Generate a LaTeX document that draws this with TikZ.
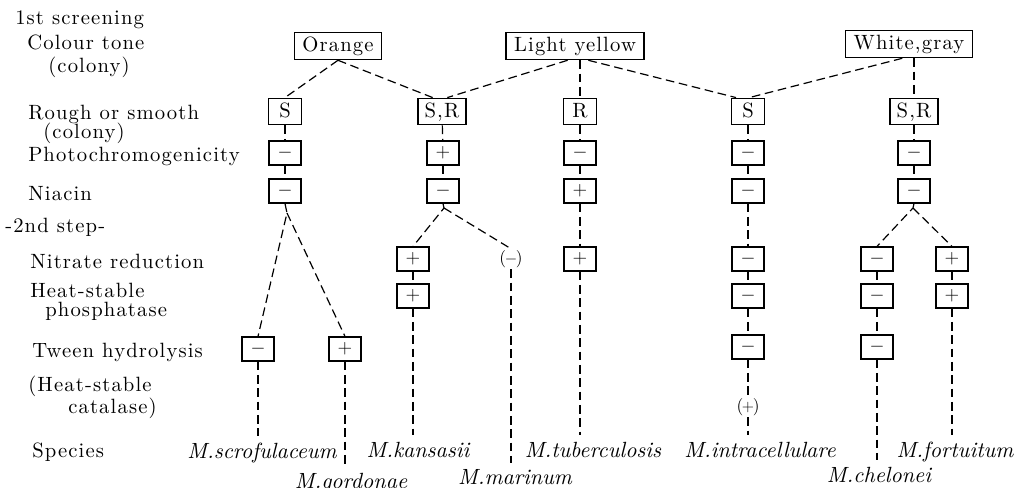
\documentclass[tikz,border=0pt]{standalone}
\usepackage{fontspec}
\setmainfont{lmroman10-regular.otf}[
  ItalicFont=lmroman10-italic.otf,
  UprightFeatures={LetterSpace=5.5}]
\tikzset{
  txt/.style={font=\fontsize{15.5}{18}\selectfont},
  rowlabel/.style={txt, anchor=base west, inner sep=0pt},
  colourbox/.style={txt, draw, line width=0.9pt, inner xsep=6pt, inner ysep=3pt,
    text height=11pt, text depth=3.5pt},
  formbox/.style={txt, draw, line width=0.9pt, inner xsep=5pt, inner ysep=3.5pt,
    text height=11pt, text depth=2pt, minimum width=25pt},
  testbox/.style={draw, line width=0.9pt, minimum width=24pt, minimum height=18pt,
    inner sep=0pt, font=\fontsize{15}{15}\selectfont},
  weak/.style={inner sep=1pt, font=\fontsize{13}{13}\selectfont},
  species/.style={font=\fontsize{16.5}{19}\selectfont\itshape, anchor=base,
    inner xsep=0pt, inner ysep=4.5pt},
  link/.style={line width=0.9pt, dash pattern=on 6.5pt off 3.5pt},
}
\begin{document}
\begin{tikzpicture}[x=0.75pt,y=-0.75pt]
\useasboundingbox (0,0) rectangle (1026,487);

% ---- row captions ----
\node[rowlabel] (c1)  at (15,24)  {1st screening};
\node[rowlabel] (c2)  at (27,49)  {Colour tone};
\node[rowlabel] (c3)  at (48,72)  {(colony)};
\node[rowlabel] (c4)  at (28,119) {Rough or smooth};
\node[rowlabel] (c5)  at (43,138.5) {(colony)};
\node[rowlabel] (c6)  at (28,161) {Photochromogenicity};
\node[rowlabel] (c7)  at (28,200) {Niacin};
\node[rowlabel] (c8)  at (5,232)  {-2nd step-};
\node[rowlabel] (c9)  at (30,268) {Nitrate reduction};
\node[rowlabel] (c10) at (30,297) {Heat-stable};
\node[rowlabel] (c11) at (45,316) {phosphatase};
\node[rowlabel] (c12) at (32,357) {Tween hydrolysis};
\node[rowlabel] (c13) at (28,391) {(Heat-stable};
\node[rowlabel] (c14) at (68,413) {catalase)};
\node[rowlabel] (c15) at (32,457) {Species};

% ---- colour tone ----
\node[colourbox] (ora) at (338,46) {Orange};
\node[colourbox] (ly)  at (575,46) {Light yellow};
\node[colourbox] (wg)  at (909,44) {White,gray};

% ---- rough / smooth ----
\node[formbox] (s1)  at (285,111.5) {S};
\node[formbox] (sr1) at (442,111.5) {S,R};
\node[formbox] (r)   at (580,111.5) {R};
\node[formbox] (s2)  at (748,111.5) {S};
\node[formbox] (sr2) at (914,111.5) {S,R};

% ---- photochromogenicity ----
\node[testbox] (p1) at (285,153) {$-$};
\node[testbox] (p2) at (443,153) {$+$};
\node[testbox] (p3) at (580,153) {$-$};
\node[testbox] (p4) at (748,153) {$-$};
\node[testbox] (p5) at (914,153) {$-$};

% ---- niacin ----
\node[testbox] (n1) at (285,191) {$-$};
\node[testbox] (n2) at (443,191) {$-$};
\node[testbox] (n3) at (580,191) {$+$};
\node[testbox] (n4) at (748,191) {$-$};
\node[testbox] (n5) at (914,191) {$-$};

% ---- nitrate reduction ----
\node[testbox] (t2a) at (413,259) {$+$};
\node[weak]    (t2b) at (511,259) {(\kern-1pt$-$\kern-1pt)};
\node[testbox] (t3)  at (580,259) {$+$};
\node[testbox] (t4)  at (748,259) {$-$};
\node[testbox] (t5a) at (877,259) {$-$};
\node[testbox] (t5b) at (952,259) {$+$};

% ---- heat-stable phosphatase ----
\node[testbox] (h2)  at (413,296) {$+$};
\node[testbox] (h4)  at (748,296) {$-$};
\node[testbox] (h5a) at (877,296) {$-$};
\node[testbox] (h5b) at (952,296) {$+$};

% ---- tween hydrolysis ----
\node[testbox] (w1a) at (258,349) {$-$};
\node[testbox] (w1b) at (345,349) {$+$};
\node[testbox] (w4)  at (748,347) {$-$};
\node[testbox] (w5)  at (877,347) {$-$};

% ---- heat-stable catalase ----
\node[weak] (k4) at (748,407) {(\kern-1pt$+$\kern-1pt)};

% ---- species ----
\node[species] (scr)  at (262,458) {M.scrofulaceum};
\node[species] (gor)  at (351,488) {M.gordonae};
\node[species] (kan)  at (418,457) {M.kansasii};
\node[species] (mar)  at (515,484) {M.marinum};
\node[species] (tub)  at (593,457) {M.tuberculosis};
\node[species] (intr) at (760,457) {M.intracellulare};
\node[species] (che)  at (879,482) {M.chelonei};
\node[species] (fort) at (955,457) {M.fortuitum};

% ---- branching points ----
\coordinate (b1) at (287,213);
\coordinate (b2) at (444,208);
\coordinate (b5) at (913,208);

% ---- first screening links ----
\draw[link] (ora.south) -- (s1.north);
\draw[link] (ora.south) -- ([xshift=-7pt]sr1.north);
\draw[link] ([xshift=-5.5pt]ly.south) -- ([xshift=4pt]sr1.north);
\draw[link] (r.north |- ly.south) -- (r.north);
\draw[link] ([xshift=10pt]ly.south) -- ([xshift=-9pt]s2.north);
\draw[link] ([xshift=-5pt]wg.south) -- ([xshift=1pt]s2.north);
\draw[link] (sr2.north |- wg.south) -- (sr2.north);

% ---- column: scrofulaceum / gordonae ----
\draw[link] (s1) -- (p1);
\draw[link] (p1) -- (n1);
\draw[link] (n1.south) -- (b1) -- (w1a.north);
\draw[link] (b1) -- (w1b.north);
\draw[link] (w1a.south) -- (w1a.south |- scr.north);
\draw[link] (w1b.south) -- (w1b.south |- gor.north);

% ---- column: kansasii / marinum ----
\draw[link] (sr1) -- (p2);
\draw[link] (p2) -- (n2);
\draw[link] (n2.south) -- (b2) -- (t2a.north);
\draw[link] (b2) -- (t2b.north);
\draw[link] (t2a) -- (h2);
\draw[link] (h2.south) -- (h2.south |- kan.north);
\draw[link] (t2b.south) -- (t2b.south |- mar.north);

% ---- column: tuberculosis ----
\draw[link] (r) -- (p3);
\draw[link] (p3) -- (n3);
\draw[link] (n3) -- (t3);
\draw[link] (t3.south) -- (t3.south |- tub.north);

% ---- column: intracellulare ----
\draw[link] (s2) -- (p4);
\draw[link] (p4) -- (n4);
\draw[link] (n4) -- (t4);
\draw[link] (t4) -- (h4);
\draw[link] (h4) -- (w4);
\draw[link] (w4) -- (k4);
\draw[link] (k4.south) -- (k4.south |- intr.north);

% ---- column: chelonei / fortuitum ----
\draw[link] (sr2) -- (p5);
\draw[link] (p5) -- (n5);
\draw[link] (n5.south) -- (b5) -- (t5a.north);
\draw[link] (b5) -- (t5b.north);
\draw[link] (t5a) -- (h5a);
\draw[link] (h5a) -- (w5);
\draw[link] (t5b) -- (h5b);
\draw[link] (w5.south) -- (w5.south |- che.north);
\draw[link] (h5b.south) -- (h5b.south |- fort.north);
\end{tikzpicture}
\end{document}
